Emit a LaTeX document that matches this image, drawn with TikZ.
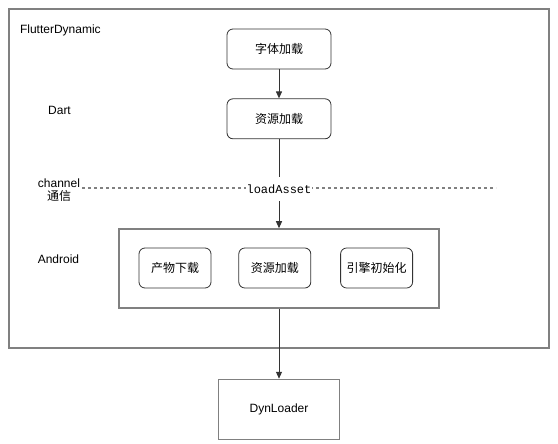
\documentclass[tikz,border=0pt]{standalone}
\usepackage{fontspec}
\setmainfont{Liberation Sans}
\setmonofont{Liberation Mono}
\newfontfamily\cjk{Noto Sans CJK SC}
\usepackage{tikz}
\usetikzlibrary{positioning, arrows.meta}
\definecolor{framegray}{HTML}{808080}
\definecolor{boxdark}{HTML}{333333}

\begin{document}
\begin{tikzpicture}[x=1pt, y=-1pt, font=\fontsize{12}{14}\selectfont,
  frame/.style={draw=framegray, line width=1.5pt, inner sep=0pt},
  stepbox/.style={draw=boxdark, line width=0.8pt, rounded corners=6pt, minimum width=104pt, minimum height=40pt, font=\fontsize{12}{14}\selectfont\cjk},
  subbox/.style={stepbox, minimum width=72pt},
  flow/.style={draw=boxdark, line width=1pt, -{Triangle[length=7pt, width=6pt]}}]
\useasboundingbox (0,0) rectangle (558,444);
\node(dyn)[frame, minimum width=540pt, minimum height=339pt] at (279,178.5) {};
\node(title)[anchor=west] at (16.5,30) {FlutterDynamic};
\node(dart) at (59.5,110) {Dart};
\node(chan)[align=center, inner sep=0pt] at (59,190) {channel\\[-1pt]{\cjk 通信}};
\node(andr) at (58.5,259) {Android};
\node(font)[stepbox] at (279,49) {字体加载};
\node(res)[stepbox, below = 29pt of font] {资源加载};
\node(android)[frame, minimum width=320pt, minimum height=79pt] at (279,268.5) {};
\node(dl)[subbox] at (175,268) {产物下载};
\node(rl)[subbox, right = 27pt of dl] {资源加载};
\node(init)[subbox, right = 29pt of rl] {引擎初始化};
\node(loader)[frame, minimum width=121pt, minimum height=60pt, below = 70pt of android] {DynLoader};
\coordinate(cl) at (82,188);
\coordinate(cr) at (496,188);
\draw[framegray, line width=1.2pt, dash pattern=on 3pt off 3pt] (cl) -- (cr);
\draw[flow] (font) -- (res);
\draw[flow] (res) -- (android);
\draw[flow] (android) -- (loader);
\node(call)[fill=white, inner xsep=1pt, minimum height=24pt, font=\fontsize{12}{14}\selectfont\ttfamily] at (279,189) {loadAsset};
\end{tikzpicture}
\end{document}
